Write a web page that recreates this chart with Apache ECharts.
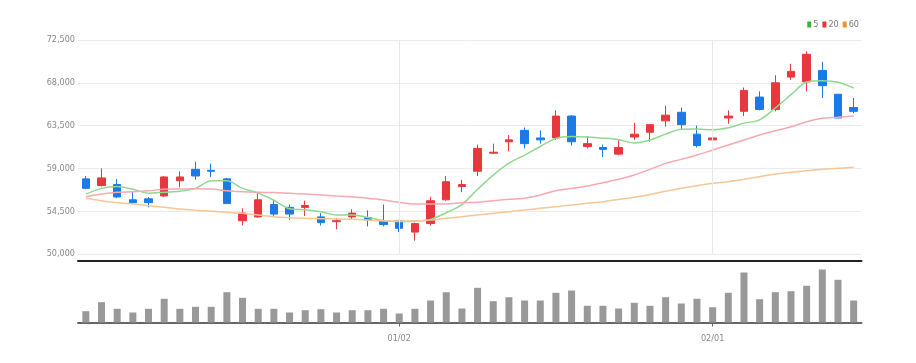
<!DOCTYPE html>
<html>
<head>
<meta charset="utf-8">
<script src="https://cdn.jsdelivr.net/npm/echarts@6/dist/echarts.min.js"></script>
<style>
html,body{margin:0;padding:0;background:#fff;}
#chart{width:916px;height:363px;}
</style>
</head>
<body>
<div id="chart"></div>
<script>
// trading dates (MM/DD)
const dates = [
  '12/02','12/05','12/06','12/07','12/08','12/09','12/12','12/13','12/14','12/15',
  '12/16','12/19','12/20','12/21','12/22','12/23','12/26','12/27','12/28','12/29',
  '01/02','01/03','01/04','01/05','01/06','01/09','01/10','01/11','01/12','01/13',
  '01/16','01/17','01/18','01/19','01/20','01/25','01/26','01/27','01/30','01/31',
  '02/01','02/02','02/03','02/06','02/07','02/08','02/09','02/10','02/13','02/14'
];
// OHLC values
const opens  = [57900,57200,57300,55700,55800,56100,57700,58900,58800,57900,
                53500,53900,55200,54900,54900,53900,53400,53900,53800,53500,
                53500,52300,53200,55700,57100,58700,60600,61800,63000,62200,
                62200,64500,61300,61200,60500,62300,62800,64000,64900,62600,
                62000,64300,65000,66500,65200,68600,68100,69300,66800,65400];
const closes = [56900,58000,56000,55400,55400,58100,58100,58200,58700,55300,
                54300,55700,54200,54200,55100,53300,53500,54300,53600,53100,
                52700,53200,55600,57600,57300,61100,60700,62000,61600,62000,
                64500,61800,61600,61000,61200,62600,63600,64600,63600,61400,
                62200,64500,67200,65200,68000,69200,71000,67700,64300,65000];
const lows   = [56800,57100,55900,55300,54900,56000,57000,57800,58100,55300,
                53000,53800,53900,53600,54000,53000,52600,53600,52900,52900,
                52300,51400,53000,55600,56500,58200,60500,60800,61100,61600,
                62000,61400,61100,60200,60400,62000,61800,63400,63100,61200,
                61500,63700,64500,65100,65000,68300,67100,66400,64300,64800];
const highs  = [58200,59000,57900,56600,56000,58200,58700,59700,59500,58000,
                54800,56400,55700,55200,55600,54300,53800,54700,54600,55200,
                53600,53300,56000,58200,57800,61500,61600,62500,63300,63000,
                65100,64600,62400,61500,62000,63800,63600,65600,65400,63500,
                63000,65100,67500,67100,68800,70000,71300,70200,66800,66400];
// moving averages
const ma5  = [56300,56900,57100,56800,56400,56500,56600,56900,57700,57700,
              56900,56400,55650,54750,54650,54450,54100,54100,53850,53500,
              53420,53450,53640,54340,55200,56800,58300,59550,60400,61300,
              62160,62350,62290,62180,62020,61680,61990,62600,63120,63130,
              63070,63280,63760,64100,65350,66750,68080,68210,68050,67450];
const ma20 = [56020,56300,56490,56550,56650,56800,56830,56860,56830,56650,
              56550,56490,56460,56380,56300,56200,56100,56020,55850,55680,
              55430,55260,55250,55260,55390,55430,55600,55750,55860,56200,
              56650,56900,57150,57500,57850,58300,58900,59530,59950,60400,
              60930,61460,61980,62510,62960,63380,63900,64270,64370,64500];
const ma60 = [55860,55600,55390,55250,55080,54910,54730,54600,54490,54380,
              54280,54100,53920,53820,53750,53710,53680,53650,53570,53500,
              53470,53470,53570,53750,53920,54100,54280,54450,54630,54800,
              54970,55150,55330,55500,55740,55960,56250,56600,56910,57180,
              57430,57600,57850,58130,58410,58590,58760,58900,59010,59110];
// trading volume
const volumes = [1130000,2030000,1370000,1000000,1370000,2370000,1370000,1570000,1570000,3030000,
                 2470000,1370000,1370000,1000000,1230000,1330000,1000000,1230000,1230000,1370000,
                  900000,1370000,2200000,3030000,1400000,3470000,2130000,2530000,2200000,2200000,
                 2970000,3200000,1670000,1670000,1400000,1970000,1670000,2530000,1900000,2370000,
                 1530000,2970000,5000000,2330000,3030000,3130000,3670000,5300000,4270000,2200000];
const maNames = ['5','20','60'];
const monthLines = ['01/02','02/01'];
const priceMin = 50000, priceMax = 72500, priceStep = 4500;

const candleData = dates.map((d, i) => [opens[i], closes[i], lows[i], highs[i]]);
const monthStart = (idx) => idx > 0 && dates[idx].slice(0,2) !== dates[idx-1].slice(0,2);
const labelFont = '"Liberation Sans Narrow","DejaVu Sans Condensed","Liberation Sans",sans-serif';

const chart = echarts.init(document.getElementById('chart'), null, {renderer: 'canvas'});
chart.setOption({
  animation: false,
  backgroundColor: '#ffffff',
  legend: {
    data: maNames,
    right: 52, top: 15,
    icon: 'rect',
    itemWidth: 4, itemHeight: 6, itemGap: 4,
    textStyle: {fontSize: 9, color: '#777', fontFamily: labelFont, padding: [0,0,0,-3]}
  },
  grid: [
    {left: 78, right: 54.5, top: 40, height: 214},
    {left: 78, right: 54.5, top: 262.5, height: 60}
  ],
  xAxis: [
    {
      type: 'category', gridIndex: 0, data: dates, boundaryGap: true,
      offset: 7,
      axisLine: {lineStyle: {color: '#222', width: 2}},
      axisTick: {show: false}, axisLabel: {show: false}, splitLine: {show: false}
    },
    {
      type: 'category', gridIndex: 1, data: dates, boundaryGap: true,
      axisLine: {lineStyle: {color: '#666', width: 2}},
      axisTick: {show: true, alignWithLabel: true, length: 4, interval: (i) => monthStart(i), lineStyle: {color: '#666'}},
      axisLabel: {interval: (i) => monthStart(i), color: '#888', fontSize: 9, fontFamily: labelFont, margin: 12},
      splitLine: {show: false}
    }
  ],
  yAxis: [
    {
      type: 'value', gridIndex: 0, min: priceMin, max: priceMax, interval: priceStep,
      axisLine: {show: false}, axisTick: {show: false},
      axisLabel: {color: '#888', fontSize: 9, fontFamily: labelFont, margin: 3,
                  formatter: (v) => v.toLocaleString('en-US')},
      splitLine: {lineStyle: {color: '#ebebeb', width: 1}}
    },
    {
      type: 'value', gridIndex: 1, min: 0, max: 6000000,
      axisLine: {show: false}, axisTick: {show: false}, axisLabel: {show: false}, splitLine: {show: false}
    }
  ],
  series: [
    {
      type: 'line', xAxisIndex: 0, yAxisIndex: 0, data: [], z: 1, silent: true,
      markLine: {
        silent: true, symbol: 'none', label: {show: false},
        lineStyle: {color: '#e8e8e8', type: 'solid', width: 1},
        data: monthLines.map(d => ({xAxis: d}))
      }
    },
    {
      type: 'candlestick', xAxisIndex: 0, yAxisIndex: 0, data: candleData, barWidth: 8, z: 2,
      itemStyle: {color: '#e8383d', color0: '#1b7be6', borderColor: '#e8383d', borderColor0: '#1b7be6', borderWidth: 1}
    },
    {
      name: maNames[0], type: 'line', data: ma5, showSymbol: false, smooth: 0.3, z: 3,
      color: '#33b833', lineStyle: {width: 1.5, color: '#8fd88f'}
    },
    {
      name: maNames[1], type: 'line', data: ma20, showSymbol: false, smooth: 0.3, z: 3,
      color: '#ee3333', lineStyle: {width: 1.5, color: '#f5a9b0'}
    },
    {
      name: maNames[2], type: 'line', data: ma60, showSymbol: false, smooth: 0.3, z: 3,
      color: '#f0922e', lineStyle: {width: 1.5, color: '#f7c596'}
    },
    {
      type: 'bar', xAxisIndex: 1, yAxisIndex: 1, data: volumes, barWidth: 7,
      itemStyle: {color: '#999999'}
    }
  ]
});
</script>
</body>
</html>
